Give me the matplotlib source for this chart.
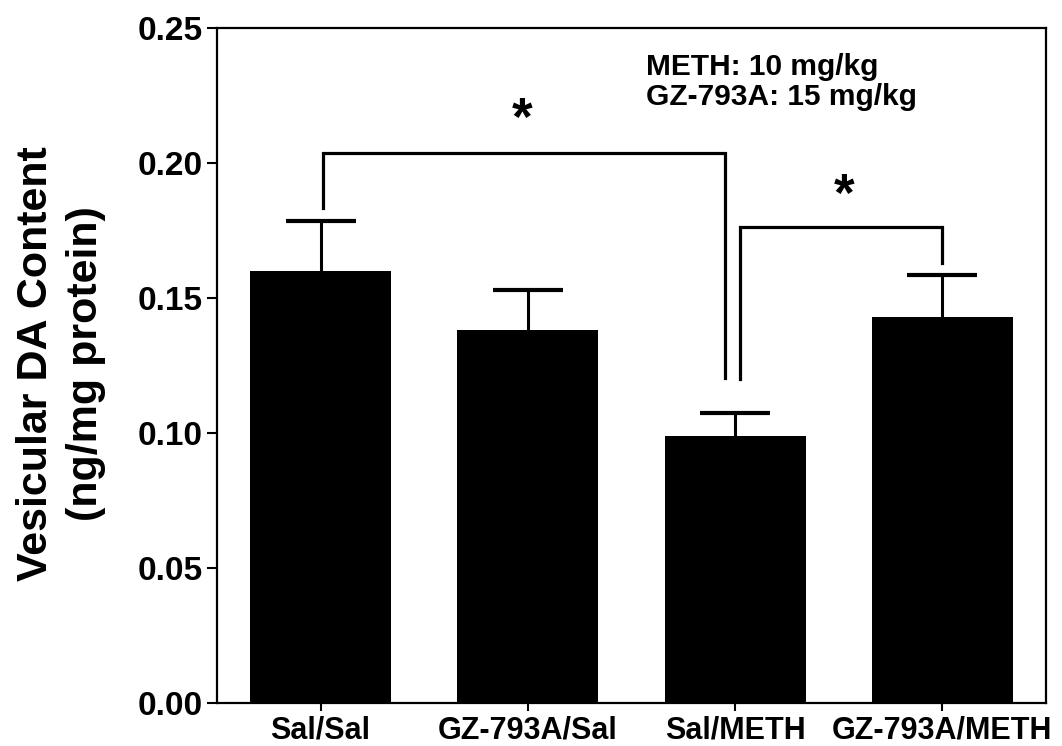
import matplotlib.pyplot as plt
import numpy as np

plt.rcParams['font.family'] = ['Liberation Sans', 'DejaVu Sans']
plt.rcParams['font.weight'] = 'bold'

groups = ['Sal/Sal', 'GZ-793A/Sal', 'Sal/METH', 'GZ-793A/METH']
da_content = [0.160, 0.138, 0.099, 0.143]
sem = [0.0185, 0.015, 0.0085, 0.0155]

fig = plt.figure(figsize=(10.62, 7.46), dpi=100)
ax = fig.add_axes([0.2043, 0.0576, 0.7807, 0.9049])

x = np.arange(len(groups))
# error bars sit behind the bars so only the upper half shows
ax.errorbar(x, da_content, yerr=sem, fmt='none', ecolor='black',
            elinewidth=2.2, capsize=25, capthick=3, zorder=1)
ax.bar(x, da_content, width=0.68, color='black', zorder=2)

# significance brackets
lw = 2.3
ax.plot([0.01, 0.01, 1.95, 1.95], [0.1833, 0.2037, 0.2037, 0.1204],
        color='black', lw=lw, solid_joinstyle='miter')
ax.plot([2.025, 2.025, 3.0, 3.0], [0.1200, 0.1763, 0.1763, 0.1630],
        color='black', lw=lw, solid_joinstyle='miter')
ax.text(0.97, 0.2105, '*', ha='center', va='baseline', fontsize=38,
        fontweight='bold')
ax.text(2.527, 0.1822, '*', ha='center', va='baseline', fontsize=38,
        fontweight='bold')

ax.text(1.57, 0.2408, 'METH: 10 mg/kg\nGZ-793A: 15 mg/kg', ha='left',
        va='top', fontsize=21.5, fontweight='bold', linespacing=1.1)

ax.set_xlim(-0.5, 3.5)
ax.set_ylim(0, 0.25)
ax.set_yticks([0.00, 0.05, 0.10, 0.15, 0.20, 0.25])
ax.set_yticklabels(['0.00', '0.05', '0.10', '0.15', '0.20', '0.25'])
ax.set_xticks(x)
ax.set_xticklabels(groups)
ax.tick_params(axis='y', labelsize=24, width=1.5, length=7, pad=3)
ax.tick_params(axis='x', labelsize=22, width=1.5, length=6, pad=3)
for lab in ax.get_yticklabels() + ax.get_xticklabels():
    lab.set_fontweight('bold')
for sp in ax.spines.values():
    sp.set_linewidth(1.6)

fig.text(61 / 1062, 0.512, 'Vesicular DA Content\n(ng/mg protein)',
         rotation=90, ha='center', va='center', fontsize=31,
         fontweight='bold', linespacing=1.3)

fig.savefig('out.png', dpi=100)
